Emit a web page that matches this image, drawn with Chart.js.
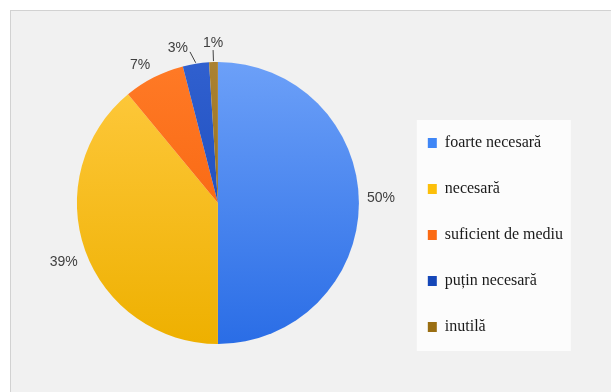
<!DOCTYPE html>
<html><head><meta charset="utf-8">
<script src="https://cdn.jsdelivr.net/npm/chart.js@4/dist/chart.umd.min.js"></script>
<style>
html,body{margin:0;padding:0;background:#fff;}
#wrap{position:relative;width:611px;height:392px;overflow:hidden;}
#panel{position:absolute;left:10px;top:10px;width:640px;height:400px;background:#f1f1f1;border-top:1px solid #d2d2d2;border-left:1px solid #d2d2d2;}
canvas{position:absolute;left:0;top:0;}
</style></head><body>
<div id="wrap"><div id="panel"></div><canvas id="c" width="611" height="392"></canvas></div>
<script>
const categories = ['foarte necesară', 'necesară', 'suficient de mediu', 'puțin necesară', 'inutilă'];
const percentages = [50, 39, 7, 3, 1];
const percentLabels = ['50%', '39%', '7%', '3%', '1%'];

const gradTop = ['#6ca0f8', '#ffca40', '#ff7a26', '#3060cf', '#ab8232'];
const gradBottom = ['#2a6de6', '#eeb000', '#f45c05', '#1442b2', '#8a630e'];
const legendColors = ['#3f86f6', '#fcbf0a', '#fb6a13', '#1547b8', '#9a6e12'];

function sliceColor(ctx) {
  const chart = ctx.chart;
  const i = ctx.dataIndex;
  const ca = chart.chartArea;
  if (!ca) return legendColors[i];
  const cy = (ca.top + ca.bottom) / 2;
  const g = chart.ctx.createLinearGradient(0, cy - 141, 0, cy + 141);
  g.addColorStop(0, gradTop[i]);
  g.addColorStop(1, gradBottom[i]);
  return g;
}

const panelBox = {
  id: 'panelBox',
  beforeDraw(chart) {
    const lg = chart.legend;
    if (!lg || !lg.columnSizes) return;
    const ctx = chart.ctx;
    const pad = lg.options.labels.padding;
    const colH = lg.columnSizes[0].height;
    const x = lg.left + pad - 11;
    const top = lg.bottom - colH - 15;
    ctx.save();
    ctx.fillStyle = '#fcfcfc';
    ctx.fillRect(x, top, 154, 231);
    ctx.restore();
  }
};

const pieLabels = {
  id: 'pieLabels',
  afterDatasetsDraw(chart) {
    const ctx = chart.ctx;
    const meta = chart.getDatasetMeta(0);
    ctx.save();
    ctx.font = '14px "Liberation Sans", Arial, sans-serif';
    ctx.fillStyle = '#404040';
    ctx.strokeStyle = '#404040';
    ctx.lineWidth = 1;
    meta.data.forEach((arc, i) => {
      const p = arc.getProps(['x', 'y', 'startAngle', 'endAngle', 'outerRadius'], true);
      const mid = (p.startAngle + p.endAngle) / 2;
      const dx = Math.cos(mid), dy = Math.sin(mid);
      const r = p.outerRadius;
      const txt = percentLabels[i];
      if (percentages[i] < 5) {
        const sx = p.x + dx * (r + 1), sy = p.y + dy * (r + 1);
        const side = Math.abs(dx) < 0.1 ? 0 : Math.sign(dx);
        const ex = p.x + dx * (r + 12) + side * 4, ey = p.y + dy * (r + 12);
        ctx.beginPath();
        ctx.moveTo(sx, sy);
        ctx.lineTo(ex, ey);
        ctx.stroke();
        ctx.textBaseline = 'middle';
        if (side === 0) {
          ctx.textAlign = 'center';
          ctx.fillText(txt, ex, ey - 7);
        } else {
          ctx.textAlign = side < 0 ? 'right' : 'left';
          ctx.fillText(txt, ex + side * 2, ey - 4);
        }
      } else {
        const ax = p.x + dx * (r + 8), ay = p.y + dy * (r + 8);
        ctx.textAlign = dx > 0.3 ? 'left' : (dx < -0.3 ? 'right' : 'center');
        ctx.textBaseline = dy > 0.3 ? 'top' : (dy < -0.3 ? 'bottom' : 'middle');
        ctx.fillText(txt, ax, ay + (Math.abs(dy) < 0.3 ? -5 : (dy < 0 ? 2 : 2)));
      }
    });
    ctx.restore();
  }
};

new Chart(document.getElementById('c'), {
  type: 'pie',
  data: {
    labels: categories,
    datasets: [{
      data: percentages,
      backgroundColor: sliceColor,
      borderWidth: 0
    }]
  },
  options: {
    responsive: false,
    animation: false,
    radius: 141,
    layout: { padding: { left: 38, right: 38, top: 41, bottom: 27 } },
    plugins: {
      tooltip: { enabled: false },
      legend: {
        position: 'right',
        align: 'end',
        labels: {
          boxWidth: 9,
          boxHeight: 10,
          padding: 30,
          color: '#1a1a1a',
          font: { family: '"Liberation Serif", "Times New Roman", serif', size: 16 },
          generateLabels(chart) {
            return categories.map((t, i) => ({
              text: t, fillStyle: legendColors[i], strokeStyle: legendColors[i],
              lineWidth: 0, hidden: false, index: i, fontColor: '#1a1a1a'
            }));
          }
        }
      }
    }
  },
  plugins: [panelBox, pieLabels]
});
</script>
</body></html>
